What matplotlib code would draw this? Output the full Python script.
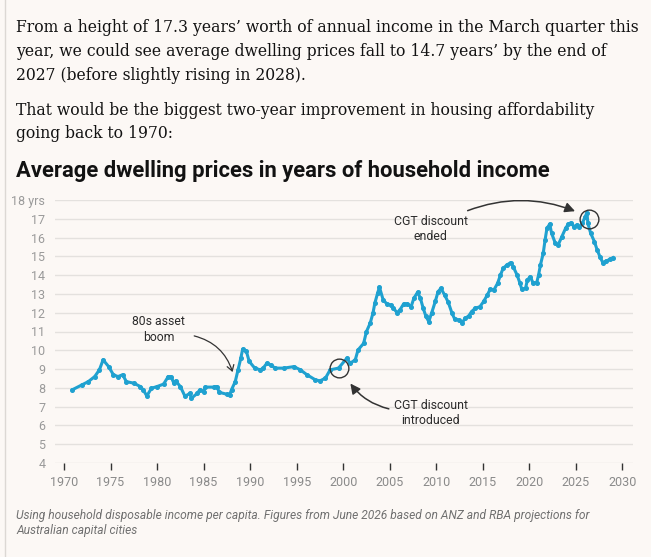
import matplotlib
matplotlib.use("Agg")
import matplotlib.pyplot as plt
from matplotlib.patches import FancyArrowPatch

# values (year, years of household income)
years = [
    1970.9, 1971.9, 1972.6, 1973.3, 1973.8, 1974.2, 1974.8, 1975.3, 1975.8, 1976.3,
    1976.7, 1977.5, 1978.2, 1978.5, 1978.9, 1979.4, 1980.0, 1980.7, 1981.2, 1981.5,
    1981.8, 1982.0, 1982.5, 1983.0, 1983.5, 1983.7, 1984.3, 1984.6, 1985.0, 1985.2,
    1986.1, 1986.4, 1986.7, 1987.5, 1987.8, 1988.0, 1988.4, 1988.7, 1989.0, 1989.2,
    1989.6, 1989.9, 1990.5, 1991.1, 1991.4, 1991.8, 1992.2, 1992.7, 1993.6, 1994.7,
    1995.4, 1996.1, 1997.0, 1997.5, 1998.1, 1998.6, 1999.5, 2000.4, 2000.75, 2001.3,
    2001.6, 2002.2, 2002.5, 2002.9, 2003.2, 2003.4, 2003.7, 2003.9, 2004.3, 2004.7,
    2005.1, 2005.4, 2005.8, 2006.1, 2006.5, 2006.9, 2007.3, 2007.6, 2008.0, 2008.3,
    2008.6, 2008.9, 2009.2, 2009.5, 2009.9, 2010.2, 2010.5, 2010.9, 2011.3, 2011.7,
    2012.0, 2012.4, 2012.8, 2013.1, 2013.5, 2013.8, 2014.2, 2014.7, 2015.1, 2015.5,
    2015.8, 2016.2, 2016.6, 2016.9, 2017.2, 2017.6, 2018.0, 2018.3, 2018.7, 2019.0,
    2019.2, 2019.6, 2019.8, 2020.1, 2020.4, 2020.8, 2021.0, 2021.2, 2021.5, 2021.7,
    2021.9, 2022.2, 2022.4, 2022.8, 2023.1, 2023.5, 2023.9, 2024.2, 2024.5, 2024.8,
    2025.1, 2025.4, 2025.7, 2026.0, 2026.2, 2026.3, 2026.6, 2027.0, 2027.3, 2027.6,
    2027.9, 2028.3, 2028.7, 2029.0,
]
values = [
    7.90, 8.15, 8.33, 8.60, 8.96, 9.49, 9.13, 8.70, 8.60, 8.70,
    8.33, 8.25, 8.07, 7.90, 7.57, 7.98, 8.07, 8.20, 8.60, 8.60,
    8.25, 8.37, 8.07, 7.55, 7.70, 7.45, 7.70, 7.90, 7.80, 8.04,
    8.04, 8.07, 7.76, 7.66, 7.63, 7.90, 8.33, 8.96, 9.58, 10.06,
    9.94, 9.41, 9.05, 8.96, 9.05, 9.31, 9.22, 9.05, 9.05, 9.13,
    8.96, 8.70, 8.43, 8.37, 8.52, 8.96, 9.05, 9.58, 9.31, 9.49,
    10.02, 10.37, 10.99, 11.44, 11.97, 12.50, 13.04, 13.36, 12.68, 12.47,
    12.41, 12.24, 12.00, 12.15, 12.47, 12.47, 12.32, 12.77, 13.09, 12.77,
    12.24, 11.80, 11.53, 11.97, 12.60, 13.12, 13.30, 12.95, 12.55, 11.97,
    11.65, 11.62, 11.47, 11.70, 11.83, 12.06, 12.24, 12.32, 12.60, 12.95,
    13.25, 13.21, 13.57, 14.00, 14.37, 14.54, 14.67, 14.42, 14.00, 13.57,
    13.25, 13.30, 13.74, 13.92, 13.60, 13.60, 14.00, 14.54, 15.16, 15.87,
    16.49, 16.72, 16.23, 15.70, 15.60, 16.05, 16.49, 16.72, 16.79, 16.58,
    16.67, 16.54, 16.76, 17.11, 17.33, 16.76, 16.23, 15.79, 15.34, 14.98,
    14.67, 14.76, 14.85, 14.93,
]
yticks = list(range(4, 19))
ytick_labels = [str(v) for v in yticks[:-1]] + ["18 yrs"]
xticks = list(range(1970, 2031, 5))

W, H = 651, 557
BG = "#fcf8f5"
BLUE = "#1fa1d0"
DARK = "#2b2b2b"


def fx(px):
    return px / W


def fy(py):
    return 1 - py / H


fig = plt.figure(figsize=(W / 100, H / 100), dpi=100, facecolor=BG)

# left border of the article column
fig.add_artist(plt.Line2D([fx(5), fx(5)], [0, 1], color="#dcd8d4", lw=1))

para = [
    (31.5, "From a height of 17.3 years’ worth of annual income in the March quarter this"),
    (55.5, "year, we could see average dwelling prices fall to 14.7 years’ by the end of"),
    (79.5, "2027 (before slightly rising in 2028)."),
    (115, "That would be the biggest two-year improvement in housing affordability"),
    (138.5, "going back to 1970:"),
]
for py, txt in para:
    fig.text(fx(16), fy(py), txt, fontsize=11.25, family="DejaVu Serif",
             color="#121212", va="baseline", ha="left")

fig.text(fx(16), fy(177), "Average dwelling prices in years of household income",
         fontsize=15.8, family="Roboto", weight="bold", color="#121212",
         va="baseline", ha="left")

fig.text(fx(16), fy(516), "Using household disposable income per capita. Figures from June 2026 "
         "based on ANZ and RBA projections for", fontsize=8.65, family="Roboto",
         style="italic", color="#707070", va="center")
fig.text(fx(16), fy(530.5), "Australian capital cities", fontsize=8.65, family="Roboto",
         style="italic", color="#707070", va="center")

ax = fig.add_axes([fx(55), fy(463), fx(633) - fx(55), fy(200) - fy(463)])
ax.set_facecolor(BG)
ax.set_xlim(1969.03, 2031.15)
ax.set_ylim(4, 18)
for s in ax.spines.values():
    s.set_visible(False)
ax.set_yticks(yticks)
ax.set_yticklabels(ytick_labels)
ax.set_xticks(xticks)
ax.grid(axis="y", color="#e4e1de", lw=1)
ax.set_axisbelow(True)
ax.tick_params(axis="y", length=0, pad=7, labelsize=9, labelcolor="#9a9a9a")
ax.tick_params(axis="x", length=5, width=1, color="#333333", pad=4,
               labelsize=9, labelcolor="#8a8a8a")
for lab in ax.get_xticklabels() + ax.get_yticklabels():
    lab.set_family("Roboto")

ax.plot(years, values, color=BLUE, lw=2.2, marker="o", ms=2.6, mec=BLUE, mfc=BLUE,
        solid_joinstyle="round", clip_on=False, zorder=3)

# circles marking the CGT events
for cx, cy in [(1999.5, 9.05), (2026.4, 17.0)]:
    ax.plot([cx], [cy], marker="o", ms=13.5, mfc="none", mec="#333333", mew=1, zorder=4)

ax.text(1980.2, 11.1, "80s asset\nboom", ha="center", va="center", fontsize=8.8,
        family="Roboto", color=DARK, linespacing=1.25)
ax.text(2009.4, 6.65, "CGT discount\nintroduced", ha="center", va="center", fontsize=8.8,
        family="Roboto", color=DARK, linespacing=1.25)
ax.text(2009.4, 16.45, "CGT discount\nended", ha="center", va="center", fontsize=8.8,
        family="Roboto", color=DARK, linespacing=1.25)

ax.add_patch(FancyArrowPatch((1983.7, 10.8), (1988.2, 8.7),
                             connectionstyle="arc3,rad=-0.3", arrowstyle="->,head_length=4,head_width=2.5",
                             color="#333333", lw=0.9, zorder=5))
ax.add_patch(FancyArrowPatch((2005.2, 6.85), (2000.6, 8.35),
                             connectionstyle="arc3,rad=-0.2", arrowstyle="-|>,head_length=6,head_width=3",
                             color="#333333", lw=1.1, zorder=5))
ax.add_patch(FancyArrowPatch((2013.1, 17.38), (2025.2, 17.35),
                             connectionstyle="arc3,rad=-0.2", arrowstyle="-|>,head_length=6,head_width=3",
                             color="#333333", lw=1.1, zorder=5))

fig.savefig("out.png", dpi=100, facecolor=BG)
